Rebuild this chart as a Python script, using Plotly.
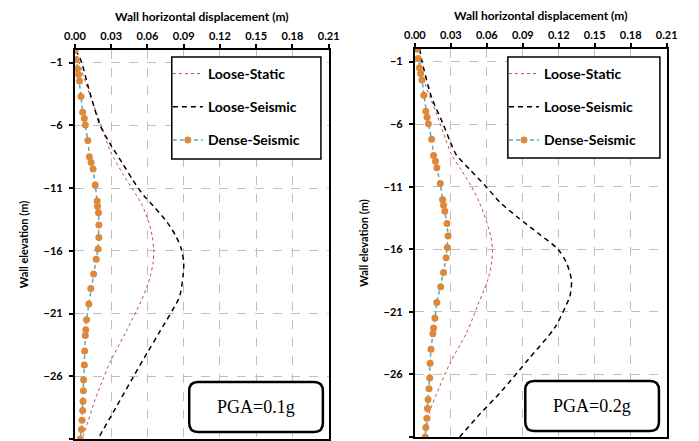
import plotly.graph_objects as go

# ---------------- data ----------------
x_ticks = [0.00, 0.03, 0.06, 0.09, 0.12, 0.15, 0.18, 0.21]
y_ticks = [-31, -26, -21, -16, -11, -6, -1]

elev_nodes = [0, -0.75, -1.5, -1.96, -2.47, -3.7, -4.97, -5.45, -5.98, -7.22, -8.5, -8.97,
              -9.49, -10.75, -12.03, -12.48, -12.97, -13.95, -14.95, -15.85, -16.67, -17.85,
              -19.0, -20.25, -21.5, -22.3, -22.75, -23.98, -25.1, -26.28, -27.15, -28.0,
              -28.72, -29.5, -30.25, -31.0]

# PGA = 0.1g
dense_L = [0.0003, 0.0013, 0.0022, 0.003, 0.0038, 0.005, 0.0064, 0.0078, 0.0086, 0.0107, 0.012,
           0.0134, 0.015, 0.0168, 0.0184, 0.0187, 0.0195, 0.0198, 0.0198, 0.0192, 0.0176, 0.0155,
           0.0131, 0.0115, 0.0096, 0.009, 0.0086, 0.008, 0.0078, 0.0072, 0.007, 0.0067, 0.0064,
           0.0059, 0.0054, 0.0043]
static_L_elev = [0, -1, -3.72, -6.12, -7.98, -9.85, -11.6, -12.3, -13.6, -14.8, -15.9,
                 -16.95, -18.0, -18.95, -19.9, -22.5, -24.9, -26.3, -27.9, -29.5, -31]
static_L = [0.0003, 0.0035, 0.0128, 0.0222, 0.0289, 0.0395, 0.051, 0.0553, 0.0607, 0.0639,
            0.0652, 0.0647, 0.0625, 0.0593, 0.0553, 0.042, 0.029, 0.023, 0.0166, 0.0112, 0.006]
seis_L_elev = [0, -0.79, -3.1, -5.98, -7.45, -9.05, -10.3, -11.6, -12.5, -13.6, -14.8, -15.9,
               -16.95, -18.0, -19.35, -19.9, -22.5, -24.1, -26.1, -28.4, -31]
seis_L = [0.0005, 0.0048, 0.0115, 0.0208, 0.0289, 0.0395, 0.0475, 0.0569, 0.0655, 0.0753,
          0.0834, 0.0882, 0.09, 0.0895, 0.0874, 0.0855, 0.0699, 0.060, 0.048, 0.0345, 0.019]

# PGA = 0.2g
dense_R = [0.0016, 0.0027, 0.0038, 0.0048, 0.0059, 0.0075, 0.0091, 0.0102, 0.0113, 0.014, 0.0156,
           0.0172, 0.0183, 0.0212, 0.0231, 0.0239, 0.025, 0.0268, 0.0277, 0.0271, 0.026, 0.0239,
           0.0215, 0.0183, 0.0167, 0.0156, 0.015, 0.0134, 0.0127, 0.0124, 0.0118, 0.011, 0.0105,
           0.01, 0.0091, 0.0086]
static_R_elev = [0, -2.7, -5.1, -7.25, -8.45, -9.65, -11.0, -12.3, -13.7, -15.0, -16.07, -17.1,
                 -18.3, -19.3, -20.1, -22.7, -25.0, -27.0, -29.15, -31]
static_R = [0.002, 0.0083, 0.0177, 0.0258, 0.0306, 0.0385, 0.0473, 0.054, 0.0594, 0.0634, 0.0647,
            0.0639, 0.0613, 0.0575, 0.054, 0.043, 0.0298, 0.0205, 0.0118, 0.0088]
seis_R_elev = [0, -0.84, -3.8, -5.9, -7.8, -8.45, -9.65, -11.0, -12.3, -13.5, -14.7, -16.0,
               -17.1, -18.5, -19.8, -20.1, -22.2, -24.74, -27.3, -29.15, -31.0]
seis_R = [0.004, 0.0056, 0.0137, 0.0231, 0.0312, 0.0345, 0.046, 0.0594, 0.0715, 0.0865, 0.1025,
          0.1193, 0.1265, 0.1306, 0.1292, 0.1279, 0.1171, 0.0951, 0.0726, 0.0544, 0.0373]

pga_labels = ["PGA=0.1g", "PGA=0.2g"]
series_names = ["Loose-Static", "Loose-Seismic", "Dense-Seismic"]

# ---------------- figure ----------------
W, H = 699, 441
RED = "#C0504D"
BLUE = "#4BACC6"
ORANGE = "#E0883A"
FONT = "Lato"

fig = go.Figure()

panels = [
    ("x", "y", "legend", static_L_elev, static_L, seis_L_elev, seis_L, dense_L),
    ("x2", "y2", "legend2", static_R_elev, static_R, seis_R_elev, seis_R, dense_R),
]
for i, (xa, ya, lg, se, sv, ke, kv, dv) in enumerate(panels):
    fig.add_trace(go.Scatter(x=sv, y=se, mode="lines", name=series_names[0],
                             line=dict(color=RED, width=1, dash="dot", shape="spline", smoothing=0.8),
                             xaxis=xa, yaxis=ya, legend=lg, legendgroup=f"a{i}"))
    fig.add_trace(go.Scatter(x=kv, y=ke, mode="lines", name=series_names[1],
                             line=dict(color="black", width=1.5, dash="5px,4px", shape="spline", smoothing=0.8),
                             xaxis=xa, yaxis=ya, legend=lg, legendgroup=f"b{i}"))
    fig.add_trace(go.Scatter(x=dv, y=elev_nodes, mode="lines+markers", name=series_names[2],
                             line=dict(color=BLUE, width=1.5, dash="4px,3px"),
                             marker=dict(color=ORANGE, size=7, symbol="circle"),
                             xaxis=xa, yaxis=ya, legend=lg, legendgroup=f"c{i}"))

def px2x(p):
    return p / W

def px2y(p):
    return 1 - p / H

tickfont = dict(family=FONT, size=11, color="black", weight="bold")

xcommon = dict(range=[0, 0.21], tickvals=x_ticks, tickformat=".2f", side="top",
               showline=True, linecolor="black", linewidth=2, mirror=True,
               ticks="outside", ticklen=4, tickwidth=1.5, tickcolor="black",
               showgrid=True, gridcolor="#BFBFBF", gridwidth=1, griddash="dash",
               zeroline=False, tickfont=tickfont,
               title=dict(text="Wall horizontal displacement (m)",
                          font=dict(family=FONT, size=12, color="black", weight="bold"), standoff=4))
ycommon = dict(range=[-31, 0], tickvals=y_ticks,
               showline=True, linecolor="black", linewidth=2, mirror=True,
               ticks="outside", ticklen=4, tickwidth=1.5, tickcolor="black",
               showgrid=True, gridcolor="#BFBFBF", gridwidth=1, griddash="dash",
               zeroline=False, tickfont=tickfont, ticklabelstandoff=4,
               title=dict(text="Wall elevation (m)",
                          font=dict(family=FONT, size=11, color="black", weight="bold"), standoff=13))

legfont = dict(family=FONT, size=14, color="black", weight="bold")
fig.update_layout(
    width=W, height=H, margin=dict(l=0, r=0, t=0, b=0),
    paper_bgcolor="white", plot_bgcolor="white",
    xaxis=dict(domain=[px2x(66), px2x(328)], anchor="y", **xcommon),
    yaxis=dict(domain=[px2y(439), px2y(50)], anchor="x", **ycommon),
    xaxis2=dict(domain=[px2x(417), px2x(677)], anchor="y2", **xcommon),
    yaxis2=dict(domain=[px2y(437), px2y(49)], anchor="x2", **ycommon),
    legend=dict(x=px2x(162), y=px2y(58), xanchor="left", yanchor="top",
                borderwidth=0, bgcolor="rgba(0,0,0,0)", font=legfont,
                tracegroupgap=12, traceorder="grouped"),
    legend2=dict(x=px2x(509), y=px2y(58), xanchor="left", yanchor="top",
                 borderwidth=0, bgcolor="rgba(0,0,0,0)", font=legfont,
                 tracegroupgap=12, traceorder="grouped"),
    showlegend=True,
)

# legend frames (opaque, like the original)
for x0, y0, x1, y1 in [(166, 57, 320, 159), (513, 57, 670, 158)]:
    fig.add_shape(type="rect", xref="paper", yref="paper",
                  x0=px2x(x0), x1=px2x(x1), y0=px2y(y1), y1=px2y(y0),
                  line=dict(color="black", width=1.5), fillcolor="white", layer="above")

def rounded_rect(x0, y0, x1, y1, r):
    X = lambda p: px2x(p)
    Y = lambda p: px2y(p)
    return (f"M {X(x0+r)} {Y(y0)} L {X(x1-r)} {Y(y0)} Q {X(x1)} {Y(y0)} {X(x1)} {Y(y0+r)} "
            f"L {X(x1)} {Y(y1-r)} Q {X(x1)} {Y(y1)} {X(x1-r)} {Y(y1)} "
            f"L {X(x0+r)} {Y(y1)} Q {X(x0)} {Y(y1)} {X(x0)} {Y(y1-r)} "
            f"L {X(x0)} {Y(y0+r)} Q {X(x0)} {Y(y0)} {X(x0+r)} {Y(y0)} Z")

boxes = [(184, 382, 322, 432), (531, 381, 669, 431)]
for (x0, y0, x1, y1), lab in zip(boxes, pga_labels):
    fig.add_shape(type="path", xref="paper", yref="paper", path=rounded_rect(x0, y0, x1, y1, 9),
                  line=dict(color="black", width=2.5), fillcolor="white", layer="above")
    fig.add_annotation(x=px2x((x0 + x1) / 2), y=px2y((y0 + y1) / 2), xref="paper", yref="paper",
                       text=lab, showarrow=False, xanchor="center", yanchor="middle",
                       font=dict(family="Liberation Serif", size=18, color="black"))

fig.write_html("out.html")
